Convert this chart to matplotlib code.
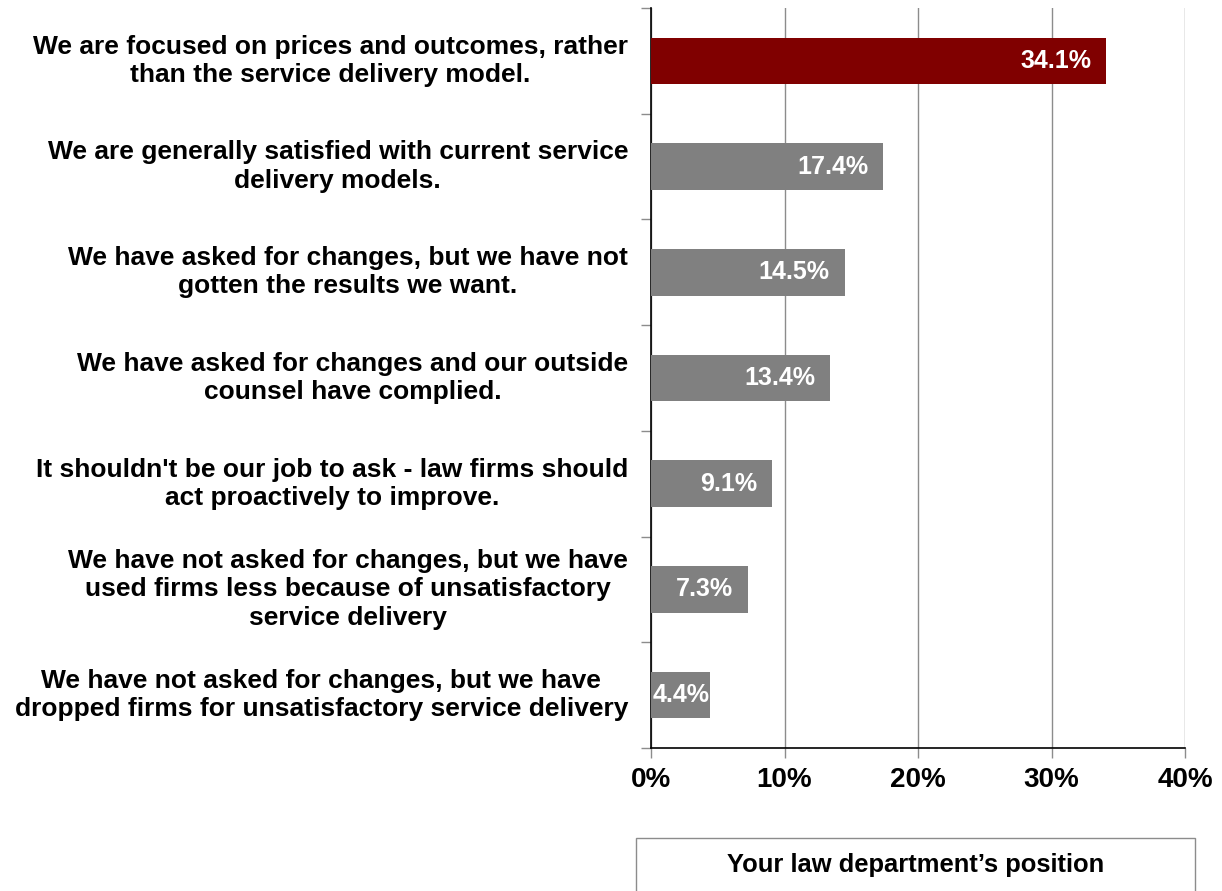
import matplotlib
matplotlib.use("Agg")
import matplotlib.pyplot as plt
from matplotlib.patches import Rectangle
from matplotlib.transforms import blended_transform_factory, offset_copy

plt.rcParams["font.family"] = ["Liberation Sans", "DejaVu Sans"]
plt.rcParams["font.weight"] = "bold"

# data (top to bottom as in the chart)
labels = [
    "We are focused on prices and outcomes, rather\nthan the service delivery model.",
    "We are generally satisfied with current service\ndelivery models.",
    "We have asked for changes, but we have not\ngotten the results we want.",
    "We have asked for changes and our outside\ncounsel have complied.",
    "It shouldn't be our job to ask - law firms should\nact proactively to improve.",
    "We have not asked for changes, but we have\nused firms less because of unsatisfactory\nservice delivery",
    "We have not asked for changes, but we have\ndropped firms for unsatisfactory service delivery",
]
values = [34.1, 17.4, 14.5, 13.4, 9.1, 7.3, 4.4]
bar_colors = ["#800000", "#808080", "#808080", "#808080", "#808080", "#808080", "#808080"]
x_ticks = [0, 10, 20, 30, 40]
legend_title = "Your law department\u2019s position"

fig = plt.figure(figsize=(12.22, 8.91), dpi=100)
ax = fig.add_axes([651 / 1222, 1 - 748 / 891, (1185 - 651) / 1222, (748 - 8) / 891])

n = len(values)
ypos = list(range(n))
ax.barh(ypos, values, height=0.44, color=bar_colors, zorder=3)
ax.set_ylim(n - 0.5, -0.5)
ax.set_xlim(0, 40)

# gridlines and ticks
ax.set_xticks(x_ticks)
ax.set_xticklabels([f"{t}%" for t in x_ticks], fontsize=20, fontweight="bold")
ax.grid(axis="x", color="#8c8c8c", linewidth=1, zorder=0)
ax.set_yticks([i - 0.5 for i in range(n + 1)])
ax.set_yticklabels([])
ax.tick_params(axis="y", direction="out", length=7, color="#8c8c8c", width=1)
ax.tick_params(axis="x", direction="out", length=7, color="#8c8c8c", width=1, pad=7)
for s in ["top", "right"]:
    ax.spines[s].set_visible(False)
for s in ["left", "bottom"]:
    ax.spines[s].set_color("black")
    ax.spines[s].set_linewidth(1.2)

# category labels
trans = blended_transform_factory(fig.transFigure, ax.transData)
for i, lab in enumerate(labels):
    ax.text(628 / 1222, i, lab, transform=trans, ha="right", va="center",
            multialignment="center", fontsize=19, fontweight="bold", linespacing=1.22)

# value labels inside bars
for i, v in enumerate(values):
    if v < 6:
        t = offset_copy(ax.transData, fig=fig, x=2, y=0, units="dots")
        ax.text(0, i, f"{v:.1f}%", transform=t, ha="left", va="center",
                color="white", fontsize=18, fontweight="bold", zorder=4)
    else:
        t = offset_copy(ax.transData, fig=fig, x=-15, y=0, units="dots")
        ax.text(v, i, f"{v:.1f}%", transform=t, ha="right", va="center",
                color="white", fontsize=18, fontweight="bold", zorder=4)

# legend box at the bottom
box = Rectangle((636 / 1222, -0.02), (1195 - 636) / 1222, 0.02 + (891 - 838) / 891,
                transform=fig.transFigure, fill=False, edgecolor="#8c8c8c", linewidth=1)
fig.patches.append(box)
fig.text(916 / 1222, 1 - 865 / 891, legend_title, ha="center", va="center",
         fontsize=18.4, fontweight="bold")

fig.savefig("out.png", dpi=100)
